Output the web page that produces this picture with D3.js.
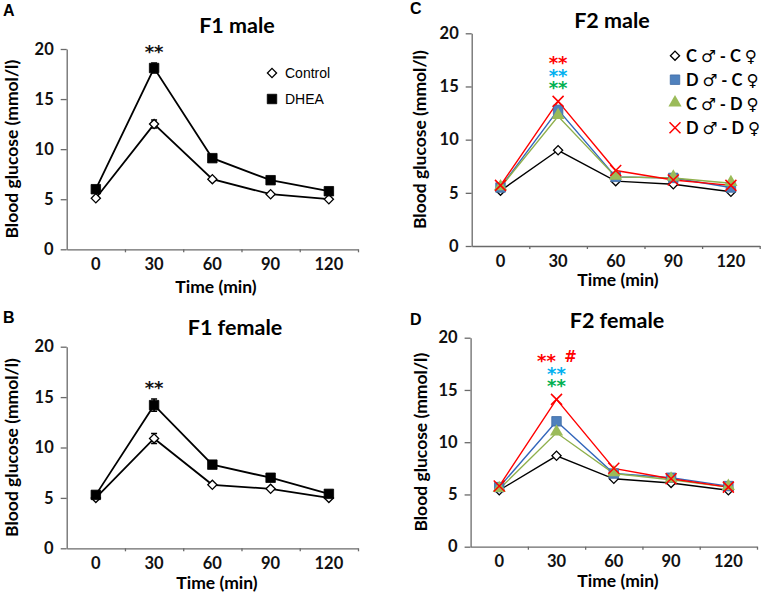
<!DOCTYPE html>
<html>
<head>
<meta charset="utf-8">
<script src="https://cdn.jsdelivr.net/npm/d3@7"></script>
<style>
  body { margin: 0; background: #fff; }
  svg { display: block; background: #fff; }
  .axis .domain, .axis line { stroke: #6a6a6a; stroke-width: 1.3; }
  .axis text { font-family: Lato, "Open Sans", sans-serif; font-weight: bold; font-size: 16.5px; fill: #111; }
</style>
</head>
<body>
<script>
// time points (category axis) and y ticks
var times = ["0", "30", "60", "90", "120"];
var yTicks = [0, 5, 10, 15, 20];

// F1 male (A)
var f1MaleControl = [5.1, 12.5, 7.0, 5.5, 5.0];
var f1MaleDHEA = [6.0, 18.1, 9.1, 6.9, 5.8];
var f1MaleControlErr = [0.1, 0.4, 0.15, 0.1, 0.1];
var f1MaleDHEAErr = [0.2, 0.5, 0.3, 0.15, 0.15];

// F1 female (B)
var f1FemaleControl = [5.0, 10.9, 6.3, 5.9, 5.0];
var f1FemaleDHEA = [5.3, 14.2, 8.3, 7.0, 5.4];
var f1FemaleControlErr = [0.1, 0.5, 0.1, 0.1, 0.1];
var f1FemaleDHEAErr = [0.2, 0.6, 0.2, 0.2, 0.2];

// F2 male (C)
var f2MaleCC = [5.2, 9.0, 6.1, 5.8, 5.1];
var f2MaleDC = [5.5, 12.8, 6.5, 6.4, 5.5];
var f2MaleCD = [5.5, 12.2, 6.5, 6.4, 5.9];
var f2MaleDD = [5.7, 13.6, 7.1, 6.2, 5.7];

// F2 female (D)
var f2FemaleCC = [5.4, 8.7, 6.5, 6.1, 5.4];
var f2FemaleDC = [5.7, 12.0, 7.0, 6.6, 5.8];
var f2FemaleCD = [5.5, 10.9, 7.0, 6.4, 5.7];
var f2FemaleDD = [5.8, 14.1, 7.5, 6.5, 5.7];

var f1Labels = ["Control", "DHEA"];
var f2Labels = ["C \u2642 - C \u2640", "D \u2642 - C \u2640", "C \u2642 - D \u2640", "D \u2642 - D \u2640"];

var svg = d3.select("body")
  .append("svg")
  .attr("width", 765)
  .attr("height", 596);

var styles = {
  control: { line: "#000", width: 1.8, marker: "diamond" },
  dhea:    { line: "#000", width: 1.8, marker: "square", fill: "#000", stroke: "#000" },
  cc: { line: "#000", width: 1.4, marker: "diamond" },
  dc: { line: "#3366bb", width: 1.4, marker: "square", fill: "#4f81bd", stroke: "#3d6aa3" },
  cd: { line: "#8fb04c", width: 1.4, marker: "triangle", fill: "#9bbb59" },
  dd: { line: "#ff0000", width: 1.4, marker: "x" }
};

function drawMarker(g, st, cx, cy) {
  if (st.marker == "diamond") {
    g.append("path")
      .attr("d", d3.symbol(d3.symbolSquare, 42)())
      .attr("transform", "translate(" + cx + "," + cy + ")rotate(45)")
      .attr("fill", "#fff")
      .attr("stroke", "#000")
      .attr("stroke-width", 1.3);
  }
  else if (st.marker == "square") {
    g.append("path")
      .attr("d", d3.symbol(d3.symbolSquare, 90)())
      .attr("transform", "translate(" + cx + "," + cy + ")")
      .attr("fill", st.fill)
      .attr("stroke", st.stroke)
      .attr("stroke-width", 0.8);
  }
  else if (st.marker == "triangle") {
    g.append("path")
      .attr("d", d3.symbol(d3.symbolTriangle, 75)())
      .attr("transform", "translate(" + cx + "," + (cy - 1) + ")")
      .attr("fill", st.fill);
  }
  else if (st.marker == "x") {
    var r = 5.5;
    g.append("path")
      .attr("d", "M" + (cx - r) + "," + (cy - r) + "L" + (cx + r) + "," + (cy + r) +
                 "M" + (cx - r) + "," + (cy + r) + "L" + (cx + r) + "," + (cy - r))
      .attr("stroke", st.line)
      .attr("stroke-width", 1.5);
  }
}

function drawPanel(p) {
  var x = d3.scaleBand().domain(times).range([p.x0, p.x1]);
  var y = d3.scaleLinear().domain([0, 20]).range([p.yBot, p.yTop]);
  var xc = function(t) { return x(t) + x.bandwidth() / 2; };

  var g = svg.append("g");

  // panel letter + title
  g.append("text")
    .attr("x", p.letterX).attr("y", p.letterY)
    .attr("font-family", "Liberation Sans, Arial, sans-serif")
    .attr("font-weight", "bold").attr("font-size", 16)
    .text(p.letter);
  g.append("text")
    .attr("x", p.titleX).attr("y", p.titleY)
    .attr("text-anchor", "middle")
    .attr("font-family", "Lato, sans-serif")
    .attr("font-weight", "bold").attr("font-size", 21.5)
    .text(p.title);

  // y axis
  g.append("g")
    .attr("class", "axis")
    .attr("transform", "translate(" + p.x0 + ",0)")
    .call(d3.axisLeft(y).tickValues(yTicks).tickSize(6).tickSizeOuter(0).tickPadding(7));

  // x axis: line + small ticks at category edges
  var xe = d3.scaleLinear().domain([0, times.length]).range([p.x0, p.x1]);
  g.append("g")
    .attr("class", "axis")
    .attr("transform", "translate(0," + p.yBot + ")")
    .call(d3.axisBottom(xe).tickValues([1, 2, 3, 4, 5]).tickSize(3).tickSizeOuter(0).tickFormat(""));
  var xl = g.append("g")
    .attr("class", "axis")
    .attr("transform", "translate(0," + p.yBot + ")")
    .call(d3.axisBottom(x).tickSize(0).tickPadding(9));
  xl.select(".domain").remove();

  // axis titles
  g.append("text")
    .attr("transform", "translate(" + p.ylabX + "," + (p.yTop + p.yBot) / 2 + ")rotate(-90)")
    .attr("text-anchor", "middle")
    .attr("dy", "0.35em")
    .attr("font-family", "Lato, sans-serif")
    .attr("font-weight", "bold").attr("font-size", 17.5)
    .text("Blood glucose (mmol/l)");
  g.append("text")
    .attr("x", p.xlabX).attr("y", p.xlabY)
    .attr("text-anchor", "middle")
    .attr("font-family", "Lato, sans-serif")
    .attr("font-weight", "bold").attr("font-size", 17.5)
    .text("Time (min)");

  var line = d3.line()
    .x(function(d, i) { return xc(times[i]); })
    .y(function(d) { return y(d); });

  p.series.forEach(function(s) {
    g.append("path")
      .datum(s.values)
      .attr("d", line)
      .attr("fill", "none")
      .attr("stroke", s.style.line)
      .attr("stroke-width", s.style.width);
  });

  p.series.forEach(function(s) {
    if (s.err) {
      s.values.forEach(function(v, i) {
        var cx = xc(times[i]);
        g.append("path")
          .attr("d", "M" + cx + "," + y(v - s.err[i]) + "V" + y(v + s.err[i]) +
                     "M" + (cx - 3) + "," + y(v + s.err[i]) + "H" + (cx + 3) +
                     "M" + (cx - 3) + "," + y(v - s.err[i]) + "H" + (cx + 3))
          .attr("stroke", "#000")
          .attr("stroke-width", 1.5)
          .attr("fill", "none");
      });
    }
    s.values.forEach(function(v, i) {
      drawMarker(g, s.style, xc(times[i]), y(v));
    });
  });

  // significance marks, stacked as lines of one text block
  var sig = g.append("text")
    .attr("text-anchor", "middle")
    .attr("font-family", "DejaVu Sans, sans-serif")
    .attr("font-weight", "bold");
  p.marks.forEach(function(m) {
    var fs = m.size || 18;
    sig.append("tspan")
      .attr("x", xc(m.t) + (m.dx || 0))
      .attr("y", y(m.v) + fs * (m.off || 0.6))
      .attr("font-size", fs)
      .attr("fill", m.color)
      .text(m.text);
  });

  // legend
  if (p.legend) {
    p.legend.labels.forEach(function(lab, i) {
      var ly = p.legend.y + i * p.legend.step;
      drawMarker(g, p.series[i].style, p.legend.x, ly);
      g.append("text")
        .attr("x", p.legend.tx).attr("y", ly)
        .attr("dy", "0.36em")
        .attr("font-family", p.legend.font)
        .attr("font-weight", p.legend.weight)
        .attr("font-size", p.legend.size)
        .text(lab);
    });
  }
}

drawPanel({
  letter: "A", letterX: 3, letterY: 16,
  title: "F1 male", titleX: 237, titleY: 33,
  x0: 66.7, x1: 358, yTop: 49, yBot: 249.3,
  ylabX: 12, xlabX: 216, xlabY: 293,
  series: [
    { values: f1MaleControl, err: f1MaleControlErr, style: styles.control },
    { values: f1MaleDHEA, err: f1MaleDHEAErr, style: styles.dhea }
  ],
  marks: [ { t: "30", v: 20.2, text: "**", color: "#111" } ],
  legend: { labels: f1Labels, x: 272, y: 73, step: 26, tx: 285,
            font: "Liberation Sans, Arial, sans-serif", weight: "normal", size: 14 }
});

drawPanel({
  letter: "B", letterX: 3, letterY: 323,
  title: "F1 female", titleX: 235, titleY: 335,
  x0: 66.7, x1: 358, yTop: 346.7, yBot: 548.3,
  ylabX: 12, xlabX: 217, xlabY: 589,
  series: [
    { values: f1FemaleControl, err: f1FemaleControlErr, style: styles.control },
    { values: f1FemaleDHEA, err: f1FemaleDHEAErr, style: styles.dhea }
  ],
  marks: [ { t: "30", v: 16.4, text: "**", color: "#111" } ]
});

drawPanel({
  letter: "C", letterX: 410, letterY: 14,
  title: "F2 male", titleX: 612, titleY: 28,
  x0: 471.7, x1: 759.7, yTop: 33.3, yBot: 246,
  ylabX: 420, xlabX: 618, xlabY: 286,
  series: [
    { values: f2MaleCC, style: styles.cc },
    { values: f2MaleDC, style: styles.dc },
    { values: f2MaleCD, style: styles.cd },
    { values: f2MaleDD, style: styles.dd }
  ],
  marks: [
    { t: "30", v: 17.65, text: "**", color: "#ff0000" },
    { t: "30", v: 16.45, text: "**", color: "#00b0f0" },
    { t: "30", v: 15.3, text: "**", color: "#00b050" }
  ],
  legend: { labels: f2Labels, x: 675, y: 55.7, step: 24, tx: 686,
            font: "Lato, DejaVu Sans, sans-serif", weight: "bold", size: 16.5 }
});

drawPanel({
  letter: "D", letterX: 410, letterY: 325,
  title: "F2 female", titleX: 617, titleY: 328,
  x0: 470.6, x1: 757, yTop: 337.7, yBot: 546.7,
  ylabX: 421, xlabX: 618, xlabY: 587,
  series: [
    { values: f2FemaleCC, style: styles.cc },
    { values: f2FemaleDC, style: styles.dc },
    { values: f2FemaleCD, style: styles.cd },
    { values: f2FemaleDD, style: styles.dd }
  ],
  marks: [
    { t: "30", v: 18.2, text: "**", color: "#ff0000", dx: -10 },
    { t: "30", v: 18.2, text: "#", color: "#ff0000", dx: 14, size: 15, off: 0.36 },
    { t: "30", v: 16.95, text: "**", color: "#00b0f0" },
    { t: "30", v: 15.85, text: "**", color: "#00b050" }
  ]
});
</script>
</body>
</html>
